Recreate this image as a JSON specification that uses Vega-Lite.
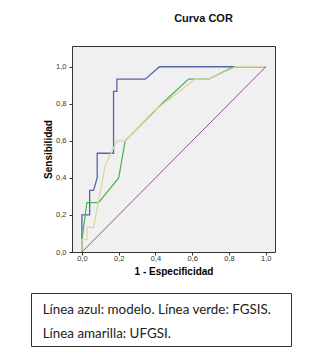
{
  "$schema": "https://vega.github.io/schema/vega-lite/v6.json",
  "background": "white",
  "padding": {"left": 30, "top": 12, "right": 0, "bottom": 0},
  "spacing": 15,
  "config": {"font": "Liberation Sans", "axis": {"grid": false}},
  "vconcat": [
    {
      "spacing": 11,
      "hconcat": [
        {
          "width": 1,
          "height": 206,
          "data": {"values": []},
          "mark": "point",
          "view": {"stroke": null, "fill": null}
        },
        {
          "width": 203,
          "height": 206,
          "title": {"text": "Curva COR", "fontSize": 11, "fontWeight": "bold", "dx": 30, "offset": 22, "anchor": "middle", "color": "#111"},
          "view": {"fill": "#f0f0f0", "stroke": "#333", "strokeWidth": 1},
          "data": {"values": [
            {"s": "modelo", "fpr": 0, "sens": 0},
            {"s": "modelo", "fpr": 0, "sens": 0.2},
            {"s": "modelo", "fpr": 0.042, "sens": 0.2},
            {"s": "modelo", "fpr": 0.042, "sens": 0.333},
            {"s": "modelo", "fpr": 0.063, "sens": 0.333},
            {"s": "modelo", "fpr": 0.083, "sens": 0.4},
            {"s": "modelo", "fpr": 0.083, "sens": 0.533},
            {"s": "modelo", "fpr": 0.172, "sens": 0.533},
            {"s": "modelo", "fpr": 0.172, "sens": 0.867},
            {"s": "modelo", "fpr": 0.19, "sens": 0.867},
            {"s": "modelo", "fpr": 0.19, "sens": 0.933},
            {"s": "modelo", "fpr": 0.344, "sens": 0.933},
            {"s": "modelo", "fpr": 0.422, "sens": 1},
            {"s": "modelo", "fpr": 1, "sens": 1},
            {"s": "FGSIS", "fpr": 0, "sens": 0},
            {"s": "FGSIS", "fpr": 0, "sens": 0.067},
            {"s": "FGSIS", "fpr": 0.027, "sens": 0.267},
            {"s": "FGSIS", "fpr": 0.09, "sens": 0.267},
            {"s": "FGSIS", "fpr": 0.2, "sens": 0.4},
            {"s": "FGSIS", "fpr": 0.235, "sens": 0.6},
            {"s": "FGSIS", "fpr": 0.435, "sens": 0.8},
            {"s": "FGSIS", "fpr": 0.58, "sens": 0.933},
            {"s": "FGSIS", "fpr": 0.69, "sens": 0.933},
            {"s": "FGSIS", "fpr": 0.824, "sens": 1},
            {"s": "FGSIS", "fpr": 1, "sens": 1},
            {"s": "UFGSI", "fpr": 0, "sens": 0},
            {"s": "UFGSI", "fpr": 0, "sens": 0.067},
            {"s": "UFGSI", "fpr": 0.027, "sens": 0.067},
            {"s": "UFGSI", "fpr": 0.027, "sens": 0.133},
            {"s": "UFGSI", "fpr": 0.063, "sens": 0.133},
            {"s": "UFGSI", "fpr": 0.127, "sens": 0.467},
            {"s": "UFGSI", "fpr": 0.19, "sens": 0.6},
            {"s": "UFGSI", "fpr": 0.235, "sens": 0.6},
            {"s": "UFGSI", "fpr": 0.39, "sens": 0.76},
            {"s": "UFGSI", "fpr": 0.616, "sens": 0.933},
            {"s": "UFGSI", "fpr": 0.69, "sens": 0.933},
            {"s": "UFGSI", "fpr": 0.84, "sens": 1},
            {"s": "UFGSI", "fpr": 1, "sens": 1},
            {"s": "ref", "fpr": 0, "sens": 0},
            {"s": "ref", "fpr": 1, "sens": 1}
          ]},
          "encoding": {
            "x": {"field": "fpr", "type": "quantitative",
              "scale": {"domain": [-0.054, 1.05], "nice": false, "zero": false},
              "axis": {"title": "1 - Especificidad", "values": [0, 0.2, 0.4, 0.6, 0.8, 1],
                "labelExpr": "replace(format(datum.value, '.1f'), '.', ',')",
                "domain": false, "tickSize": 3, "tickColor": "#333", "labelPadding": -1,
                "labelFontSize": 7.5, "labelColor": "#333", "titleFontSize": 10, "titleFontWeight": "bold",
                "titleColor": "#000", "titlePadding": 5}},
            "y": {"field": "sens", "type": "quantitative",
              "scale": {"domain": [0, 1.112], "nice": false, "zero": false},
              "axis": {"title": "Sensibilidad", "values": [0, 0.2, 0.4, 0.6, 0.8, 1],
                "labelExpr": "replace(format(datum.value, '.1f'), '.', ',')",
                "domain": false, "tickSize": 3, "tickColor": "#333", "labelPadding": 3,
                "labelFontSize": 7.5, "labelColor": "#333", "titleFontSize": 10, "titleFontWeight": "bold",
                "titleColor": "#000", "titlePadding": 2}},
            "order": {"value": null}
          },
          "layer": [
            {"transform": [{"filter": "datum.s === 'modelo'"}], "mark": {"type": "line", "color": "#5565a8", "strokeWidth": 1.3}},
            {"transform": [{"filter": "datum.s === 'FGSIS'"}], "mark": {"type": "line", "color": "#4cb050", "strokeWidth": 1.2}},
            {"transform": [{"filter": "datum.s === 'UFGSI'"}], "mark": {"type": "line", "color": "#ddd6a8", "strokeWidth": 1.3}},
            {"transform": [{"filter": "datum.s === 'ref'"}], "mark": {"type": "line", "color": "#9a5098", "strokeWidth": 1}}
          ]
        }
      ]
    },
    {
      "width": 260,
      "height": 53,
      "view": {"fill": "white", "stroke": "#333", "strokeWidth": 1},
      "data": {"values": [
        {"linea": 1, "texto": "Línea azul: modelo. Línea verde: FGSIS."},
        {"linea": 2, "texto": "Línea amarilla: UFGSI."}
      ]},
      "mark": {"type": "text", "align": "left", "baseline": "middle", "dx": 11.7, "dy": 2.5, "font": "Lato", "fontSize": 13.4, "color": "#222"},
      "encoding": {
        "x": {"datum": 0, "type": "quantitative", "scale": {"domain": [0, 1]}, "axis": null},
        "y": {"field": "linea", "type": "ordinal", "scale": {"type": "point", "padding": 0.618}, "axis": null},
        "text": {"field": "texto"}
      }
    }
  ]
}
